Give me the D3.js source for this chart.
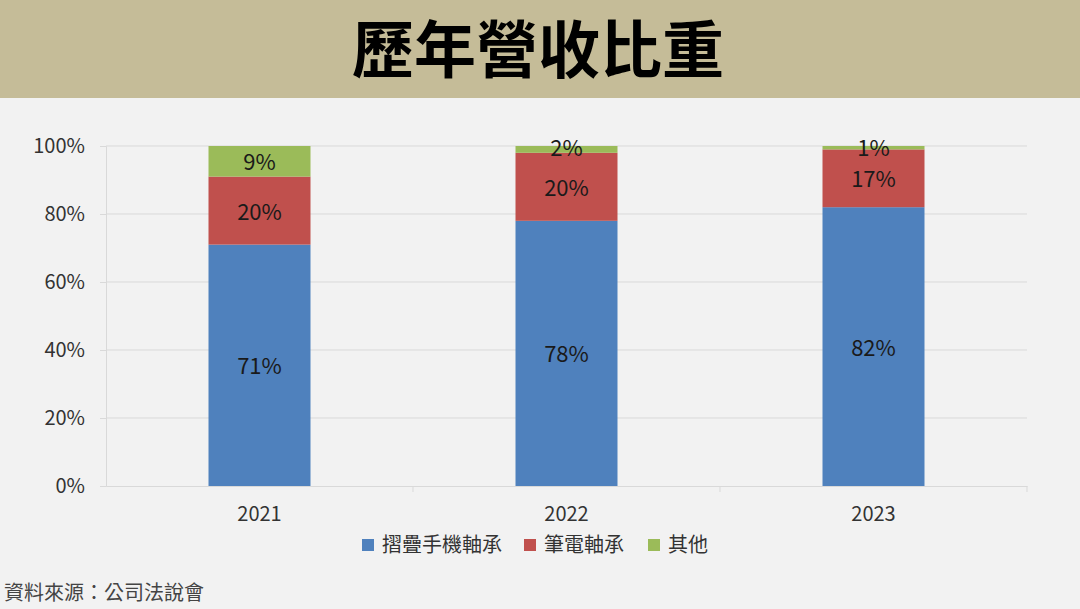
<!DOCTYPE html>
<html>
<head>
<meta charset="utf-8">
<script src="https://cdn.jsdelivr.net/npm/d3@7"></script>
<style>
  body { margin: 0; background: #f2f2f2; }
  svg { display: block; }
</style>
</head>
<body>
<svg id="chart" width="1080" height="609"></svg>
<script>
const years = ["2021", "2022", "2023"];
const seriesNames = ["摺疊手機軸承", "筆電軸承", "其他"];
const foldable = [71, 78, 82];
const laptop = [20, 20, 17];
const other = [9, 2, 1];
const yTicks = [0, 20, 40, 60, 80, 100];
const colors = ["#4f81bd", "#c0504d", "#9bbb59"];

const font = "'Noto Sans CJK TC', 'Noto Sans', sans-serif";
const svg = d3.select("#chart");

// header band
svg.append("rect").attr("width", 1080).attr("height", 98).attr("fill", "#c5bc98");
svg.append("text")
  .attr("x", 538).attr("y", 73)
  .attr("text-anchor", "middle")
  .attr("font-family", font).attr("font-weight", 700)
  .attr("font-size", 62).attr("fill", "#000")
  .text("歷年營收比重");

const plotL = 106, plotR = 1027, plotT = 146, plotB = 486;

const x = d3.scaleBand().domain(years).range([plotL, plotR]).paddingInner(0).paddingOuter(0);
const y = d3.scaleLinear().domain([0, 100]).range([plotB, plotT]);

const rows = years.map((yr, i) => ({ year: yr, s0: foldable[i], s1: laptop[i], s2: other[i] }));
const stack = d3.stack().keys(["s0", "s1", "s2"])(rows);

// gridlines
svg.append("g").selectAll("line").data(yTicks.filter((t) => t > 0)).enter().append("line")
  .attr("x1", plotL).attr("x2", plotR)
  .attr("y1", (d) => y(d)).attr("y2", (d) => y(d))
  .attr("stroke", "#d9d9d9").attr("stroke-width", 1);

// y axis
const yAxis = svg.append("g").attr("transform", `translate(${plotL},0)`)
  .call(d3.axisLeft(y).tickValues(yTicks).tickFormat((d) => d + "%").tickSize(6).tickPadding(15));
yAxis.select(".domain").attr("stroke", "#d9d9d9");
yAxis.selectAll(".tick line").attr("stroke", "#d9d9d9");
yAxis.selectAll("text").attr("font-family", font).attr("font-size", 20).attr("fill", "#333");

// x axis
const xAxis = svg.append("g").attr("transform", `translate(0,${plotB})`)
  .call(d3.axisBottom(x).tickSize(0).tickPadding(21));
xAxis.select(".domain").attr("stroke", "#d9d9d9");
xAxis.selectAll("text").attr("font-family", font).attr("font-size", 20).attr("fill", "#333");
xAxis.selectAll(".sep").data(years.slice(1).concat(["end"])).enter().append("line")
  .attr("x1", (d) => d === "end" ? plotR : x(d)).attr("x2", (d) => d === "end" ? plotR : x(d))
  .attr("y1", 0).attr("y2", 6).attr("stroke", "#d9d9d9");

// bars
const barW = 102;
const layers = svg.append("g").selectAll("g").data(stack).enter().append("g")
  .attr("fill", (d, i) => colors[i]);
layers.selectAll("rect").data((d) => d).enter().append("rect")
  .attr("x", (d) => x(d.data.year) + x.bandwidth() / 2 - barW / 2)
  .attr("width", barW)
  .attr("y", (d) => y(d[1]))
  .attr("height", (d) => y(d[0]) - y(d[1]));

// labels (tiny top segments get pushed just below the 100% line)
layers.selectAll("text").data((d) => d.map((p) => ({ p, key: d.key }))).enter().append("text")
  .attr("x", (d) => x(d.p.data.year) + x.bandwidth() / 2)
  .attr("y", (d) => {
    const mid = y((d.p[0] + d.p[1]) / 2);
    return mid < plotT + 6 ? plotT + 10 : mid + 9;
  })
  .attr("text-anchor", "middle")
  .attr("font-family", font).attr("font-size", 22).attr("fill", "#1a1a1a")
  .text((d) => d.p.data[d.key] + "%");

// legend
const legendItems = [
  { name: seriesNames[0], x: 362 },
  { name: seriesNames[1], x: 524 },
  { name: seriesNames[2], x: 648 },
];
const legend = svg.append("g").selectAll("g").data(legendItems).enter().append("g")
  .attr("transform", (d) => `translate(${d.x},545)`);
legend.append("rect").attr("x", 0).attr("y", -6).attr("width", 12).attr("height", 12)
  .attr("fill", (d, i) => colors[i]);
legend.append("text").attr("x", 20).attr("y", 7)
  .attr("font-family", font).attr("font-size", 20).attr("fill", "#333")
  .text((d) => d.name);

// source
svg.append("text").attr("x", 4).attr("y", 600)
  .attr("font-family", font).attr("font-size", 20).attr("fill", "#444")
  .text("資料來源：公司法說會");
</script>
</body>
</html>
